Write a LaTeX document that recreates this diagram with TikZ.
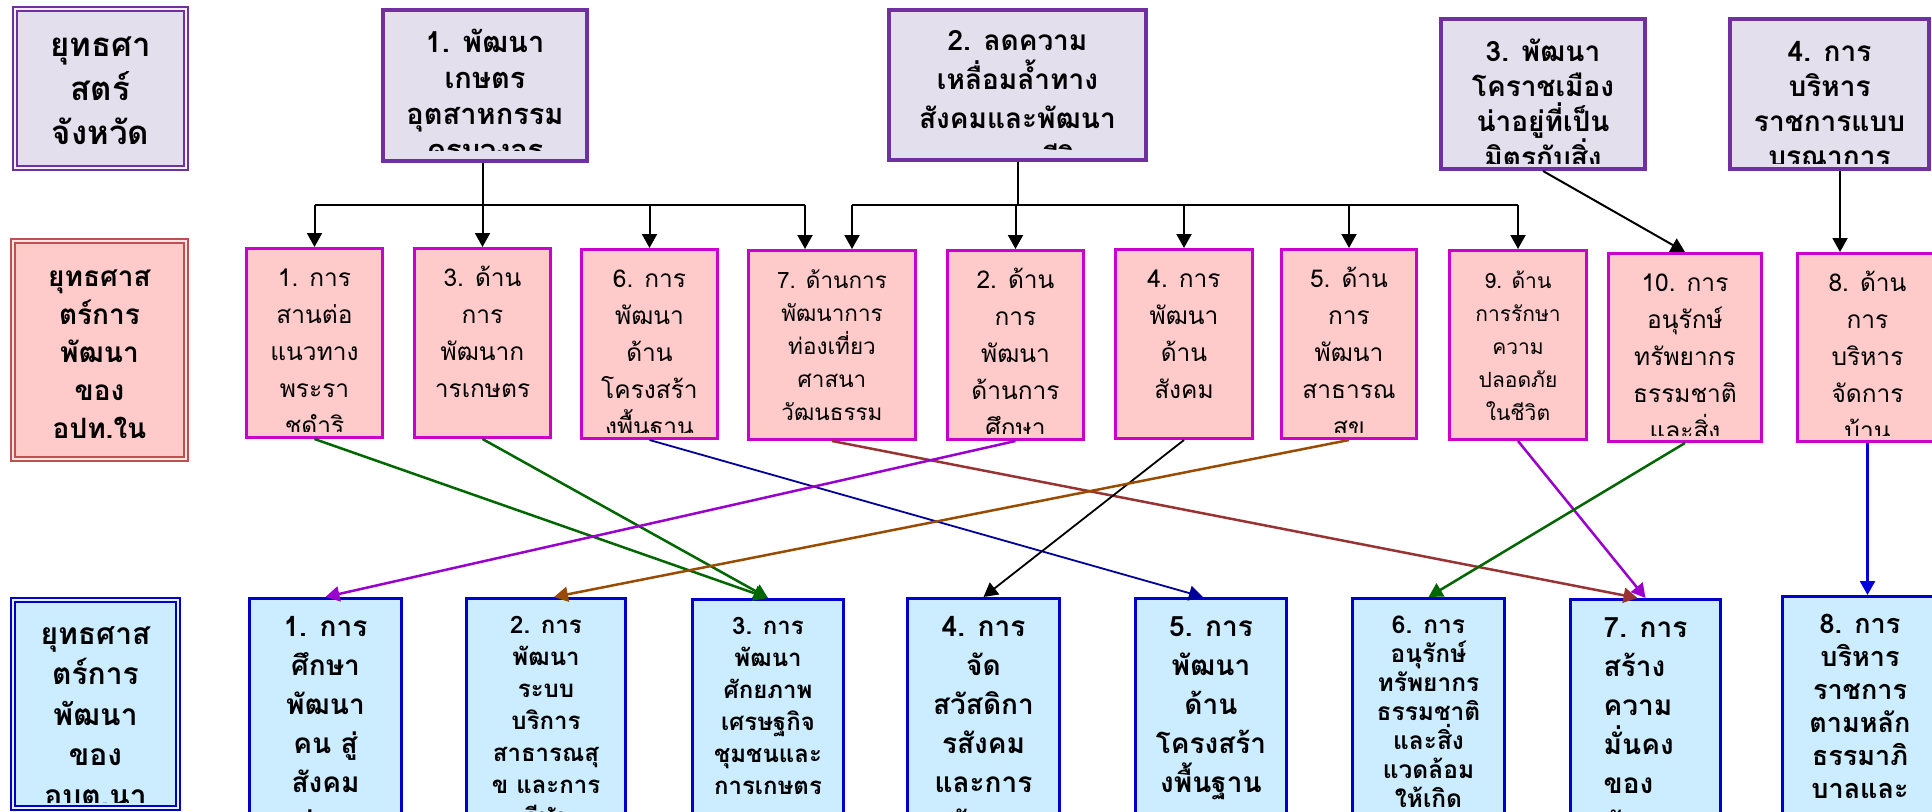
\documentclass[tikz,border=0pt]{standalone}
\usepackage{fontspec}
\newfontfamily\thai[Script=Thai]{Loma}
\usetikzlibrary{arrows.meta,calc}
\definecolor{lav}{HTML}{E4DFEC}
\definecolor{topb}{HTML}{7030A0}
\definecolor{pinkf}{HTML}{FFCACA}
\definecolor{pinkb}{HTML}{CC00CC}
\definecolor{bluef}{HTML}{CCECFF}
\definecolor{blueb}{HTML}{0000CC}
\definecolor{hred}{HTML}{C0504D}
\definecolor{cgreen}{HTML}{006600}
\definecolor{cnavy}{HTML}{000099}
\definecolor{cbrown}{HTML}{993333}
\definecolor{cpurple}{HTML}{9900CC}
\definecolor{corange}{HTML}{994C00}
\definecolor{cblue}{HTML}{0000DD}
\tikzset{
  clipinset/.store in=\cinset, clipinset=6pt,
  anybox/.style={rectangle, inner sep=0pt, anchor=north west},
  topbox/.style={anybox, draw=topb, fill=lav, line width=4pt},
  hdtop/.style={anybox, draw=topb, fill=lav, line width=2pt, double=lav!50!white, double distance=2.5pt},
  hdpink/.style={anybox, draw=hred, fill=pinkf, line width=2pt, double=pinkf!50!white, double distance=2.5pt},
  hdblue/.style={anybox, draw=blueb, fill=bluef, line width=2pt, double=bluef!50!white, double distance=2.5pt},
  pinkbox/.style={anybox, draw=pinkb, fill=pinkf, line width=3pt},
  bluebox/.style={anybox, draw=blueb, fill=bluef, line width=3pt},
  txt/.style={draw=none, fill=none, rectangle, inner sep=0pt, minimum width=0pt, minimum height=0pt, align=center, text=black, anchor=north},
  ttop/.style={font=\thai\bfseries\fontsize{28}{35}\selectfont, yshift=-10},
  ttopa/.style={font=\thai\bfseries\fontsize{29}{36}\selectfont, yshift=-10},
  ttop2/.style={font=\thai\bfseries\fontsize{28}{39}\selectfont, yshift=-8},
  thd/.style={font=\thai\bfseries\fontsize{33}{44}\selectfont, yshift=-16},
  thdp/.style={font=\thai\bfseries\fontsize{28}{38}\selectfont, yshift=-14},
  thdb/.style={font=\thai\bfseries\fontsize{30}{40.5}\selectfont, yshift=-13},
  tpink/.style={font=\thai\fontsize{24.5}{37}\selectfont, yshift=-6},
  tpinks/.style={font=\thai\fontsize{22.5}{33}\selectfont, yshift=-6},
  tpinkt/.style={font=\thai\fontsize{21}{33}\selectfont, yshift=-6},
  tblue/.style={font=\thai\bfseries\fontsize{28}{39}\selectfont, yshift=-6},
  tbluem/.style={font=\thai\bfseries\fontsize{27}{33}\selectfont, yshift=-5},
  tblues/.style={font=\thai\bfseries\fontsize{24}{32}\selectfont, yshift=-3},
  tbluet/.style={font=\thai\bfseries\fontsize{24.5}{29}\selectfont, yshift=-3},
  conn/.style={line width=2pt, -{Triangle[width=15pt,length=14pt]}},
  plain/.style={line width=2pt},
}
% name, box style, x, y, width, height, text style, text
\newcommand\cbox[8]{%
  \node[#2, minimum width=#5pt, minimum height=#6pt,
    path picture={
      \clip ([yshift=\cinset]path picture bounding box.south west) rectangle (path picture bounding box.north east);
      \node[txt, #7] at (path picture bounding box.north) {\rule{0pt}{30pt}#8};
    }] (#1) at (#3,#4) {};}
\begin{document}
\begin{tikzpicture}[x=1pt,y=-1pt]
\useasboundingbox (0,0) rectangle (1932,811);
\clip (0,0) rectangle (1932,811);
% top row
\cbox{h1}{hdtop}{14}{8}{171}{159}{thd}{ยุทธศา\\สตร์\\จังหวัด}
\cbox{t1}{topbox, clipinset=11pt}{381}{8}{204}{151}{ttopa}{1. พัฒนา\\เกษตร\\อุตสาหกรรม\\ครบวงจร}
\cbox{t2}{topbox, clipinset=11pt}{887}{8}{257}{150}{ttop2}{2. ลดความ\\เหลื่อมล้ำทาง\\สังคมและพัฒนา\\คุณภาพชีวิต}
\cbox{t3}{topbox}{1439}{17}{204}{150}{ttop}{3. พัฒนา\\โคราชเมือง\\น่าอยู่ที่เป็น\\มิตรกับสิ่ง\\แวดล้อม}
\cbox{t4}{topbox}{1728}{17}{199}{150}{ttop}{4. การ\\บริหาร\\ราชการแบบ\\บูรณาการ}
% middle row
\cbox{h2}{hdpink}{12}{240}{173}{218}{thdp}{ยุทธศาส\\ตร์การ\\พัฒนา\\ของ\\อปท.ใน}
\cbox{p1}{pinkbox}{245}{247}{136}{189}{tpink}{1. การ\\สานต่อ\\แนวทาง\\พระรา\\ชดำริ}
\cbox{p3}{pinkbox}{413}{247}{136}{189}{tpink}{3. ด้าน\\การ\\พัฒนาก\\ารเกษตร}
\cbox{p6}{pinkbox}{580}{248}{136}{189}{tpink}{6. การ\\พัฒนา\\ด้าน\\โครงสร้า\\งพื้นฐาน}
\cbox{p7}{pinkbox}{747}{249}{167}{189}{tpinks}{7. ด้านการ\\พัฒนาการ\\ท่องเที่ยว\\ศาสนา\\วัฒนธรรม}
\cbox{p2}{pinkbox}{946}{249}{136}{189}{tpink}{2. ด้าน\\การ\\พัฒนา\\ด้านการ\\ศึกษา}
\cbox{p4}{pinkbox}{1114}{248}{137}{189}{tpink}{4. การ\\พัฒนา\\ด้าน\\สังคม}
\cbox{p5}{pinkbox}{1280}{248}{135}{189}{tpink}{5. ด้าน\\การ\\พัฒนา\\สาธารณ\\สุข}
\cbox{p9}{pinkbox}{1448}{249}{137}{189}{tpinkt}{9. ด้าน\\การรักษา\\ความ\\ปลอดภัย\\ในชีวิต}
\cbox{p10}{pinkbox}{1607}{252}{153}{188}{tpink}{10. การ\\อนุรักษ์\\ทรัพยากร\\ธรรมชาติ\\และสิ่ง\\แวดล้อม}
\cbox{p8}{pinkbox}{1796}{252}{140}{188}{tpink}{8. ด้าน\\การ\\บริหาร\\จัดการ\\บ้าน\\เมือง}
% bottom row
\cbox{h3}{hdblue}{12}{599}{165}{208}{thdb}{ยุทธศาส\\ตร์การ\\พัฒนา\\ของ\\อบต.นา}
\cbox{b1}{bluebox}{248}{597}{152}{240}{tblue}{1. การ\\ศึกษา\\พัฒนา\\คน สู่\\สังคม\\แห่งการ}
\cbox{b2}{bluebox}{465}{597}{159}{240}{tblues}{2. การ\\พัฒนา\\ระบบ\\บริการ\\สาธารณสุ\\ข และการ\\กีฬา}
\cbox{b3}{bluebox}{691}{598}{151}{240}{tblues}{3. การ\\พัฒนา\\ศักยภาพ\\เศรษฐกิจ\\ชุมชนและ\\การเกษตร}
\cbox{b4}{bluebox}{906}{597}{152}{240}{tblue}{4. การ\\จัด\\สวัสดิกา\\รสังคม\\และการ\\สังคม}
\cbox{b5}{bluebox}{1134}{597}{151}{240}{tblue}{5. การ\\พัฒนา\\ด้าน\\โครงสร้า\\งพื้นฐาน}
\cbox{b6}{bluebox}{1351}{597}{152}{240}{tbluet}{6. การ\\อนุรักษ์\\ทรัพยากร\\ธรรมชาติ\\และสิ่ง\\แวดล้อม\\ให้เกิด}
\cbox{b7}{bluebox}{1569}{598}{150}{240}{tblue, align=left}{7. การ\\สร้าง\\ความ\\มั่นคง\\ของ\\สังคม}
\cbox{b8}{bluebox}{1781}{595}{155}{240}{tbluem}{8. การ\\บริหาร\\ราชการ\\ตามหลัก\\ธรรมาภิ\\บาลและ}
% buses from top row
\coordinate (busy) at (0,205);
\draw[plain] (t1.south -| p3.north) -- (p3.north |- busy);
\draw[plain] ([xshift=-27pt]p7.north |- busy) -- (p1.north |- busy);
\draw[conn] (p1.north |- busy) -- (p1.north);
\draw[conn] (p3.north |- busy) -- (p3.north);
\draw[conn] (p6.north |- busy) -- (p6.north);
\draw[conn] ([xshift=-27pt]p7.north |- busy) -- ([xshift=-27pt]p7.north);
\draw[plain] (t2.south) -- (t2.south |- busy);
\draw[plain] ([xshift=20pt]p7.north |- busy) -- (p9.north |- busy);
\draw[conn] ([xshift=20pt]p7.north |- busy) -- ([xshift=20pt]p7.north);
\draw[conn] (p2.north |- busy) -- (p2.north);
\draw[conn] (p4.north |- busy) -- (p4.north);
\draw[conn] (p5.north |- busy) -- (p5.north);
\draw[conn] (p9.north |- busy) -- (p9.north);
\draw[conn] (t3.south) -- (p10.north);
\coordinate (t4x) at (1840,0);
\draw[conn] (t4.south -| t4x) -- (p8.north -| t4x);
% middle to bottom
\draw[conn, cgreen, line width=2.5pt] (p1.south) -- (b3.north);
\draw[conn, cgreen, line width=2.5pt] (p3.south) -- (b3.north);
\draw[conn, cnavy, line width=1.8pt] (p6.south) -- ([xshift=-8pt]b5.north);
\draw[conn, cbrown, line width=2.5pt] (p7.south) -- ([xshift=-8pt]b7.north);
\draw[conn, cpurple, line width=2.5pt] (p2.south) -- (b1.north);
\draw[conn, black, line width=1.8pt] (p4.south) -- (b4.north);
\draw[conn, corange, line width=2.5pt] (p5.south) -- ([xshift=8pt]b2.north);
\draw[conn, cpurple, line width=2.5pt] (p9.south) -- (b7.north);
\draw[conn, cgreen, line width=2.5pt] (p10.south) -- (b6.north);
\draw[conn, cblue, line width=2.5pt] (p8.south) -- (p8.south |- b8.north);
\end{tikzpicture}
\end{document}
